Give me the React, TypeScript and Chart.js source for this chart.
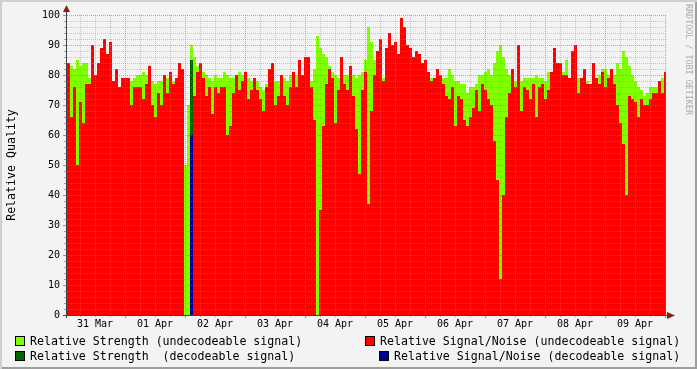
import { useEffect, useRef } from 'react';
import { Chart, registerables } from 'chart.js';

Chart.register(...registerables);

// Time axis: hours after 31 Mar 00:00; one sample every 1.2 h
const START_HOUR = 0.8;
const STEP_HOURS = 1.2;
const X_MIN = 0.8;
const X_MAX = 240.4;

const dayLabels = ['31 Mar', '01 Apr', '02 Apr', '03 Apr', '04 Apr', '05 Apr', '06 Apr', '07 Apr', '08 Apr', '09 Apr'];
const yTicks = [0, 10, 20, 30, 40, 50, 60, 70, 80, 90, 100];

// Relative Strength (undecodeable signal)
const strength = [
  84, 83, 82, 85, 83, 84, 84, 79, 90, 80,
  84, 89, 92, 87, 91, 78, 82, 76, 79, 79,
  79, 78, 79, 80, 80, 81, 80, 83, 78, 77,
  78, 78, 80, 79, 81, 78, 79, 84, 82, 50,
  70, 90, 86, 83, 84, 81, 80, 79, 78, 80,
  79, 79, 81, 80, 79, 79, 80, 81, 80, 81,
  79, 78, 79, 78, 76, 75, 77, 82, 84, 78,
  78, 80, 79, 78, 80, 81, 80, 85, 80, 86,
  86, 78, 82, 93, 89, 87, 86, 83, 81, 80,
  79, 86, 80, 80, 83, 80, 79, 80, 81, 85,
  96, 91, 85, 88, 92, 79, 89, 94, 90, 91,
  87, 99, 96, 90, 89, 86, 88, 87, 84, 85,
  81, 79, 79, 82, 80, 79, 79, 82, 80, 78,
  78, 77, 77, 74, 76, 76, 77, 80, 80, 81,
  82, 80, 84, 88, 90, 86, 82, 80, 82, 78,
  90, 78, 79, 79, 79, 79, 80, 79, 79, 78,
  81, 81, 89, 84, 84, 81, 85, 79, 88, 90,
  79, 79, 82, 78, 77, 84, 79, 80, 82, 82,
  80, 82, 80, 84, 82, 88, 86, 83, 80, 78,
  76, 75, 73, 74, 76, 76, 76, 78, 79, 81,
];

// Relative Signal/Noise (undecodeable signal)
const signalNoise = [
  84, 66, 76, 50, 71, 64, 77, 77, 90, 80,
  84, 89, 92, 87, 91, 78, 82, 76, 79, 79,
  79, 70, 76, 76, 76, 72, 77, 83, 70, 66,
  74, 70, 80, 74, 81, 77, 79, 84, 82, 0,
  0, 62, 73, 81, 84, 79, 73, 76, 67, 76,
  74, 76, 76, 60, 63, 74, 80, 75, 78, 81,
  72, 75, 79, 75, 72, 68, 76, 82, 84, 70,
  73, 80, 73, 70, 76, 81, 76, 85, 80, 86,
  86, 76, 65, 0, 35, 63, 77, 82, 79, 64,
  75, 86, 77, 75, 83, 73, 62, 47, 75, 81,
  37, 68, 80, 88, 92, 78, 89, 94, 90, 91,
  87, 99, 96, 90, 89, 86, 88, 87, 84, 85,
  81, 78, 79, 82, 80, 77, 73, 72, 76, 63,
  73, 72, 65, 63, 66, 69, 75, 68, 77, 75,
  72, 70, 58, 45, 12, 40, 66, 74, 82, 76,
  90, 68, 76, 75, 72, 77, 66, 76, 77, 72,
  75, 81, 89, 84, 84, 80, 80, 79, 88, 90,
  74, 79, 82, 77, 77, 84, 79, 77, 81, 76,
  79, 82, 77, 70, 64, 57, 40, 73, 72, 71,
  66, 72, 70, 70, 72, 74, 74, 78, 74, 81,
];

// Decodeable signal samples (sample index -> value)
const decodeableIndex = [41];
const decodeableStrength = [85];
const decodeableSignalNoise = [60];

const COLORS = {
  strengthUndec: '#7FFF00',
  snrUndec: '#FF0000',
  strengthDec: '#006600',
  snrDec: '#000099',
};

function seriesPoints(values: number[]) {
  const pts = values.map((v, i) => ({ x: START_HOUR + STEP_HOURS * i, y: v }));
  pts.push({ x: START_HOUR + STEP_HOURS * values.length, y: values[values.length - 1] });
  return pts;
}

function sparsePoints(indexes: number[], values: number[]) {
  const pts: any[] = [];
  indexes.forEach((idx, k) => {
    pts.push({ x: START_HOUR + STEP_HOURS * idx, y: values[k] });
    pts.push({ x: START_HOUR + STEP_HOURS * (idx + 1), y: values[k] });
  });
  return pts;
}

const rrdPlugin = {
  id: 'rrdGrid',
  afterDatasetsDraw(chart: any) {
    const { ctx, chartArea: a, scales } = chart;
    const xs = scales.x;
    const ys = scales.y;
    const GRID = 'rgba(143,143,143,0.45)';
    const MGRID = 'rgba(222,80,80,0.6)';
    ctx.save();
    ctx.lineWidth = 1;
    ctx.setLineDash([1, 1]);
    for (let v = 2; v <= 100; v += 2) {
      const py = Math.round(ys.getPixelForValue(v)) + 0.5;
      ctx.strokeStyle = v % 10 === 0 ? MGRID : GRID;
      ctx.beginPath();
      ctx.moveTo(a.left, py);
      ctx.lineTo(a.right, py);
      ctx.stroke();
    }
    for (let h = 6; h < X_MAX; h += 6) {
      if (h <= X_MIN) continue;
      const px = Math.round(xs.getPixelForValue(h)) + 0.5;
      ctx.strokeStyle = h % 24 === 0 ? MGRID : GRID;
      ctx.beginPath();
      ctx.moveTo(px, a.top);
      ctx.lineTo(px, a.bottom);
      ctx.stroke();
    }
    ctx.setLineDash([]);
    for (let h = 6; h < X_MAX; h += 6) {
      if (h <= X_MIN) continue;
      const px = Math.round(xs.getPixelForValue(h)) + 0.5;
      const major = h % 24 === 0;
      ctx.strokeStyle = major ? 'rgba(222,80,80,0.8)' : 'rgba(143,143,143,0.8)';
      ctx.beginPath();
      ctx.moveTo(px, a.bottom);
      ctx.lineTo(px, a.bottom + (major ? 3 : 2));
      ctx.stroke();
    }
    for (let v = 0; v <= 100; v += 2) {
      const py = Math.round(ys.getPixelForValue(v)) + 0.5;
      const major = v % 10 === 0;
      ctx.strokeStyle = major ? 'rgba(222,80,80,0.8)' : 'rgba(143,143,143,0.8)';
      ctx.beginPath();
      ctx.moveTo(a.left - 1 - (major ? 3 : 2), py);
      ctx.lineTo(a.left - 1, py);
      ctx.stroke();
    }
    ctx.strokeStyle = '#404048';
    ctx.beginPath();
    ctx.moveTo(a.left - 4, a.bottom + 0.5);
    ctx.lineTo(a.right + 3, a.bottom + 0.5);
    ctx.stroke();
    ctx.beginPath();
    ctx.moveTo(a.left - 0.5, a.bottom + 3);
    ctx.lineTo(a.left - 0.5, a.top - 4);
    ctx.stroke();
    ctx.fillStyle = '#8B1C1C';
    ctx.beginPath();
    ctx.moveTo(a.right + 1, a.bottom - 3);
    ctx.lineTo(a.right + 9, a.bottom + 0.5);
    ctx.lineTo(a.right + 1, a.bottom + 4);
    ctx.closePath();
    ctx.fill();
    ctx.beginPath();
    ctx.moveTo(a.left - 4, a.top - 3);
    ctx.lineTo(a.left - 0.5, a.top - 10);
    ctx.lineTo(a.left + 3, a.top - 3);
    ctx.closePath();
    ctx.fill();
    ctx.restore();
  },
};

const MONO = '"DejaVu Sans Mono", monospace';

function LegendItem(props: { left: number; top: number; color: string; text: string }) {
  return (
    <>
      <div
        style={{
          position: 'absolute',
          left: props.left,
          top: props.top + 2,
          width: 10,
          height: 10,
          boxSizing: 'border-box',
          border: '1px solid #000',
          background: props.color,
        }}
      />
      <div
        style={{
          position: 'absolute',
          left: props.left + 15,
          top: props.top,
          fontFamily: MONO,
          fontSize: '11.6px',
          lineHeight: '14px',
          whiteSpace: 'pre',
          color: '#000',
        }}
      >
        {props.text}
      </div>
    </>
  );
}

function areaDataset(label: string, data: any[], color: string, order: number) {
  return {
    label,
    data,
    order,
    stepped: 'before',
    fill: 'origin',
    backgroundColor: color,
    borderWidth: 0,
    borderColor: 'rgba(0,0,0,0)',
    pointRadius: 0,
  };
}

export default function App() {
  const canvasRef = useRef<HTMLCanvasElement | null>(null);

  useEffect(() => {
    if (!canvasRef.current) return;
    const chart = new Chart(canvasRef.current, {
      type: 'line',
      data: {
        datasets: [
          areaDataset('Relative Strength (undecodeable signal)', seriesPoints(strength), COLORS.strengthUndec, 4),
          areaDataset('Relative Signal/Noise (undecodeable signal)', seriesPoints(signalNoise), COLORS.snrUndec, 3),
          areaDataset('Relative Strength  (decodeable signal)', sparsePoints(decodeableIndex, decodeableStrength), COLORS.strengthDec, 2),
          areaDataset('Relative Signal/Noise (decodeable signal)', sparsePoints(decodeableIndex, decodeableSignalNoise), COLORS.snrDec, 1),
        ],
      },
      options: {
        responsive: false,
        maintainAspectRatio: false,
        animation: false,
        devicePixelRatio: 1,
        layout: { padding: { left: 0, top: 15, right: 31, bottom: 0 } },
        plugins: { legend: { display: false }, tooltip: { enabled: false } },
        elements: { line: { tension: 0 } },
        scales: {
          x: {
            type: 'linear',
            min: X_MIN,
            max: X_MAX,
            grid: { display: false, drawTicks: false },
            border: { display: false },
            afterBuildTicks: (s: any) => {
              s.ticks = dayLabels.map((_, i) => ({ value: 12 + 24 * i }));
            },
            afterFit: (s: any) => {
              s.height = 54;
            },
            ticks: {
              autoSkip: false,
              maxRotation: 0,
              minRotation: 0,
              padding: 3,
              color: '#000',
              font: { family: MONO, size: 10 },
              callback: (_v: any, i: number) => dayLabels[i],
            },
          },
          y: {
            type: 'linear',
            min: 0,
            max: 100,
            grid: { display: false, drawTicks: false },
            border: { display: false },
            afterBuildTicks: (s: any) => {
              s.ticks = yTicks.map((v) => ({ value: v }));
            },
            afterFit: (s: any) => {
              s.width = 67;
            },
            ticks: {
              padding: 7,
              color: '#000',
              font: { family: MONO, size: 10 },
            },
            title: {
              display: true,
              text: 'Relative Quality',
              color: '#000',
              font: { family: MONO, size: 11.6 },
              padding: { top: 5, bottom: 0 },
            },
          },
        },
      },
      plugins: [rrdPlugin],
    } as any);
    return () => chart.destroy();
  }, []);

  return (
    <div
      style={{
        position: 'fixed',
        left: 0,
        top: 0,
        width: 697,
        height: 369,
        background: '#F3F3F3',
        boxShadow: 'inset 2px 2px 0 #CFCFCF, inset -2px -2px 0 #9E9E9E',
        overflow: 'hidden',
      }}
    >
      <canvas
        ref={canvasRef}
        width={697}
        height={369}
        style={{ position: 'absolute', left: 0, top: 0, width: 697, height: 369 }}
      />
      <div
        style={{
          position: 'absolute',
          left: 684,
          top: 4,
          writingMode: 'vertical-rl',
          fontFamily: MONO,
          fontSize: '8.4px',
          lineHeight: '9px',
          color: '#AAAAAA',
          whiteSpace: 'pre',
        }}
      >
        RRDTOOL / TOBI OETIKER
      </div>
      <LegendItem left={15} top={334} color={COLORS.strengthUndec} text="Relative Strength (undecodeable signal)" />
      <LegendItem left={15} top={349} color={COLORS.strengthDec} text="Relative Strength  (decodeable signal)" />
      <LegendItem left={365} top={334} color={COLORS.snrUndec} text="Relative Signal/Noise (undecodeable signal)" />
      <LegendItem left={379} top={349} color={COLORS.snrDec} text="Relative Signal/Noise (decodeable signal)" />
    </div>
  );
}
